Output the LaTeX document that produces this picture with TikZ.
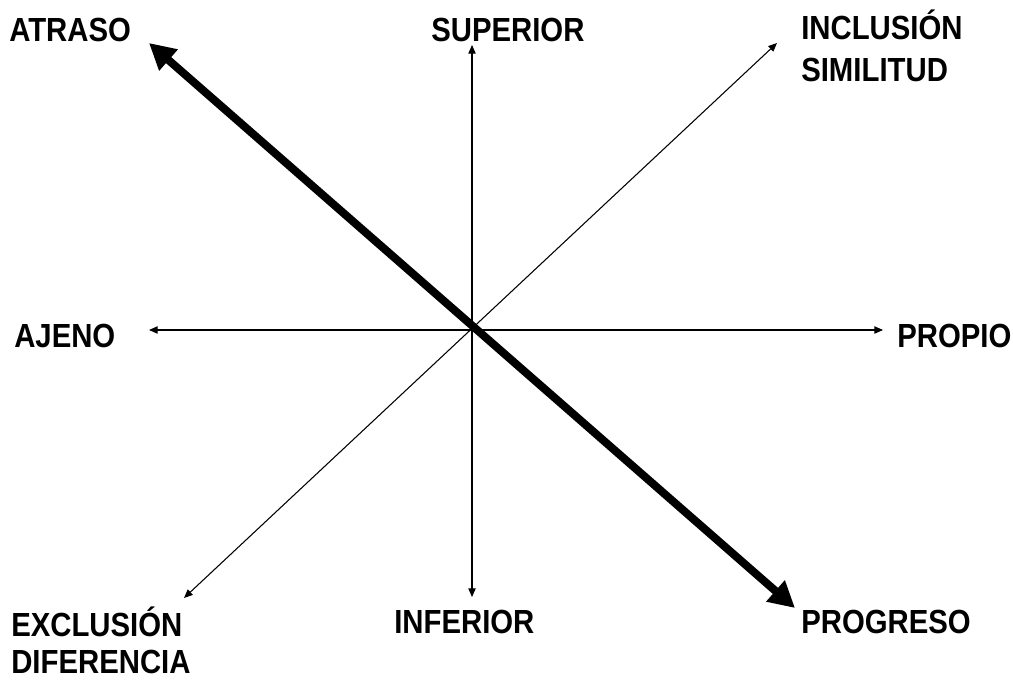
\documentclass[tikz,border=0pt]{standalone}
\usepackage{fontspec}
\setmainfont{Liberation Sans}
\usetikzlibrary{arrows.meta}
\begin{document}
\begin{tikzpicture}[x=0.75pt,y=-0.75pt,
  lbl/.style={anchor=base west,inner sep=0pt,font=\fontsize{22}{26}\selectfont\bfseries},
  thin/.style={line width=0.8pt,{Triangle[length=6.5pt,width=5.5pt]}-{Triangle[length=6.5pt,width=5.5pt]}},
  thick/.style={line width=6pt,{Triangle[length=19.5pt,width=20pt]}-{Triangle[length=19.5pt,width=20pt]}}]
\useasboundingbox (0,0) rectangle (1013,681);
\newcommand{\tl}[1]{\scalebox{1}[1.14]{#1}}
% end points
\coordinate (sup) at (472,45);
\coordinate (inf) at (472,597);
\coordinate (aje) at (149,330);
\coordinate (pro) at (883,330);
\coordinate (exc) at (184,598);
\coordinate (inc) at (777,43);
\coordinate (atr) at (149,43);
\coordinate (prg) at (795,608);
% labels
\node[lbl] (tATR) at (9,42) {\tl{ATRASO}};
\node[lbl] (tSUP) at (431,42) {\tl{SUPERIOR}};
\node[lbl] (tINC) at (801,40) {\tl{INCLUSIÓN}};
\node[lbl] (tSIM) at (801,82) {\tl{SIMILITUD}};
\node[lbl] (tAJE) at (14,347) {\tl{AJENO}};
\node[lbl] (tPRO) at (897,347) {\tl{PROPIO}};
\node[lbl] (tEXC) at (11,636) {\tl{EXCLUSIÓN}};
\node[lbl] (tDIF) at (11,673) {\tl{DIFERENCIA}};
\node[lbl] (tINF) at (394,633) {\tl{INFERIOR}};
\node[lbl] (tPRG) at (801,633) {\tl{PROGRESO}};
% axes
\draw[thin] (inf) -- (sup);
\draw[thin] (aje) -- (pro);
\draw[thin] (exc) -- (inc);
\draw[thick] (prg) -- (atr);
\end{tikzpicture}
\end{document}
